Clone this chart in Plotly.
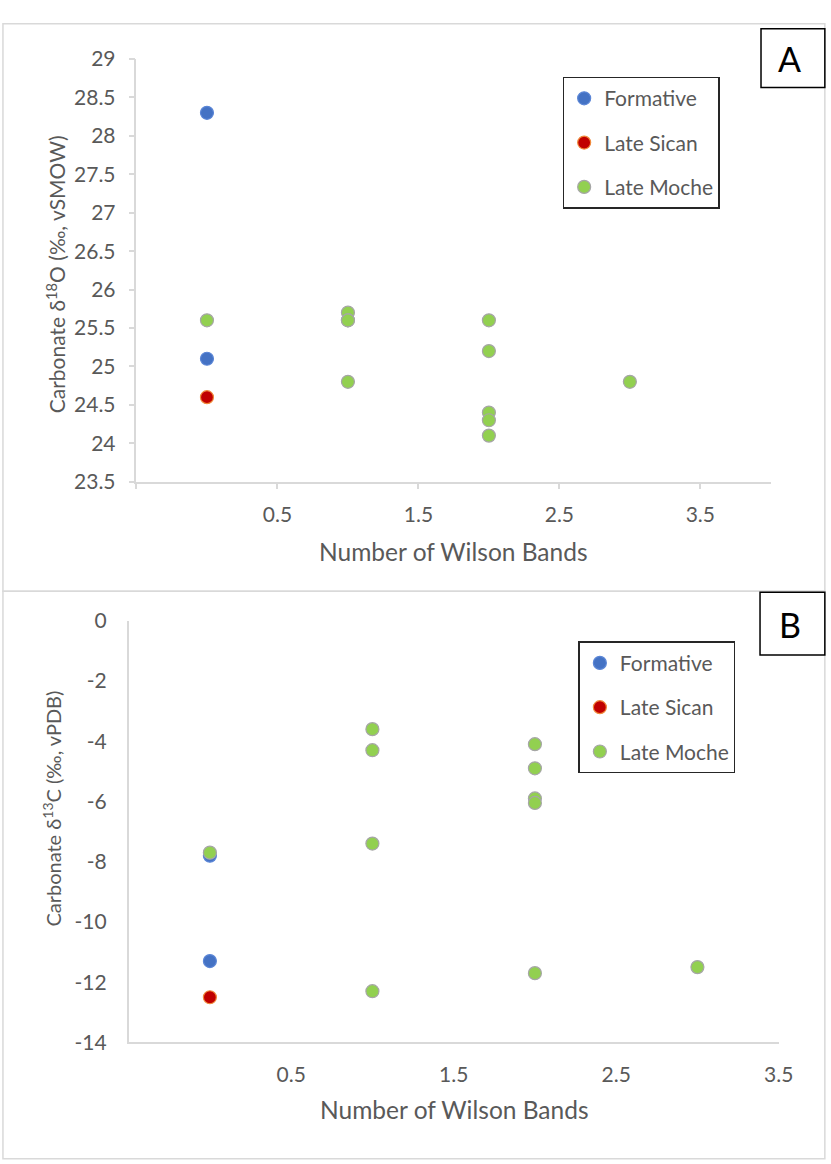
import plotly.graph_objects as go

W, H = 831, 1164

# ---- Data: panel A (carbonate d18O, vSMOW)
a_form_x = [0, 0]
a_form_y = [28.3, 25.1]
a_sican_x = [0]
a_sican_y = [24.6]
a_moche_x = [0, 1, 1, 1, 1, 2, 2, 2, 2, 2, 3]
a_moche_y = [25.6, 25.7, 25.6, 25.6, 24.8, 25.6, 25.2, 24.4, 24.3, 24.1, 24.8]

# ---- Data: panel B (carbonate d13C, vPDB)
b_form_x = [0, 0]
b_form_y = [-7.8, -11.3]
b_sican_x = [0]
b_sican_y = [-12.5]
b_moche_x = [0, 1, 1, 1, 1, 2, 2, 2, 2, 2, 3]
b_moche_y = [-7.7, -3.6, -4.3, -7.4, -12.3, -4.1, -4.9, -5.9, -6.05, -11.7, -11.5]

a_xticks = [-0.5, 0.5, 1.5, 2.5, 3.5]
a_xticktext = ["", "0.5", "1.5", "2.5", "3.5"]
a_yticks = [23.5, 24, 24.5, 25, 25.5, 26, 26.5, 27, 27.5, 28, 28.5, 29]
b_xticks = [0.5, 1.5, 2.5, 3.5]
b_yticks = [0, -2, -4, -6, -8, -10, -12, -14]

series_names = ["Formative", "Late Sican", "Late Moche"]
fills = ["#4472C4", "#C00000", "#92D050"]
rims = ["#5B86D6", "#F08A3C", "#A6A6A6"]

FONT = "Lato"
GREY = "#595959"
AX = "#D9D9D9"


def px_x(p):
    return p / W


def px_y(p):
    return 1 - p / H


fig = go.Figure()

for i, (xs, ys) in enumerate([(a_form_x, a_form_y), (a_sican_x, a_sican_y), (a_moche_x, a_moche_y)]):
    fig.add_trace(go.Scatter(
        x=xs, y=ys, mode="markers", name=series_names[i],
        marker=dict(size=13, color=fills[i], line=dict(color=rims[i], width=1.2)),
        xaxis="x", yaxis="y", legend="legend", legendgroup="a%d" % i,
    ))

for i, (xs, ys) in enumerate([(b_form_x, b_form_y), (b_sican_x, b_sican_y), (b_moche_x, b_moche_y)]):
    fig.add_trace(go.Scatter(
        x=xs, y=ys, mode="markers", name=series_names[i],
        marker=dict(size=13, color=fills[i], line=dict(color=rims[i], width=1.2)),
        xaxis="x2", yaxis="y2", legend="legend2", legendgroup="b%d" % i,
    ))

tickfont = dict(family=FONT, size=21, color=GREY)
legfont = dict(family=FONT, size=21, color=GREY)

fig.update_layout(
    width=W, height=H,
    margin=dict(l=0, r=0, t=0, b=0),
    paper_bgcolor="white", plot_bgcolor="white",
    font=dict(family=FONT, color=GREY),
    xaxis=dict(
        domain=[px_x(139), px_x(785)], range=[-0.5, 4], anchor="y",
        tickmode="array", tickvals=a_xticks, ticktext=a_xticktext,
        showgrid=False, zeroline=False, showline=True, linecolor=AX, linewidth=1.5,
        ticks="outside", ticklen=6, tickcolor=AX, tickwidth=1.5,
        tickfont=tickfont, ticklabelstandoff=7,
    ),
    yaxis=dict(
        domain=[px_y(478), px_y(46)], range=[23.5, 29], anchor="x",
        tickmode="array", tickvals=a_yticks, ticktext=[("%g" % v) for v in a_yticks],
        showgrid=False, zeroline=False, showline=True, linecolor=AX, linewidth=1.5,
        ticks="outside", ticklen=6, tickcolor=AX, tickwidth=1.5,
        tickfont=tickfont, ticklabelstandoff=9,
    ),
    xaxis2=dict(
        domain=[px_x(131), px_x(793)], range=[-0.5, 3.5], anchor="y2",
        tickmode="array", tickvals=b_xticks, ticktext=[("%g" % v) for v in b_xticks],
        showgrid=False, zeroline=False, showline=True, linecolor=AX, linewidth=1.5,
        ticks="", tickfont=tickfont, ticklabelstandoff=13,
    ),
    yaxis2=dict(
        domain=[px_y(1051), px_y(620)], range=[-14, 0], anchor="x2",
        tickmode="array", tickvals=b_yticks, ticktext=[("%g" % v) for v in b_yticks],
        showgrid=False, zeroline=False, showline=True, linecolor=AX, linewidth=1.5,
        ticks="", tickfont=tickfont, ticklabelstandoff=16,
    ),
    legend=dict(
        x=px_x(573), y=px_y(64), xanchor="left", yanchor="top",
        bordercolor="#262626", borderwidth=1.5, bgcolor="white",
        font=legfont, tracegroupgap=14, itemwidth=30,
    ),
    legend2=dict(
        x=px_x(589), y=px_y(641), xanchor="left", yanchor="top",
        bordercolor="#262626", borderwidth=1.5, bgcolor="white",
        font=legfont, tracegroupgap=14, itemwidth=30,
    ),
    showlegend=True,
)

shapes = [
    # panel outer frames
    dict(type="rect", xref="paper", yref="paper", x0=px_x(3), x1=px_x(840), y0=px_y(590), y1=px_y(10),
         line=dict(color=AX, width=1.5), fillcolor="rgba(0,0,0,0)", layer="below"),
    dict(type="rect", xref="paper", yref="paper", x0=px_x(3), x1=px_x(840), y0=px_y(1170), y1=px_y(590),
         line=dict(color=AX, width=1.5), fillcolor="rgba(0,0,0,0)", layer="below"),
    # label boxes
    dict(type="rect", xref="paper", yref="paper", x0=px_x(775), x1=px_x(840), y0=px_y(75), y1=px_y(15),
         line=dict(color="#000000", width=1.5), fillcolor="white"),
    dict(type="rect", xref="paper", yref="paper", x0=px_x(774), x1=px_x(840), y0=px_y(655), y1=px_y(591),
         line=dict(color="#000000", width=1.5), fillcolor="white"),
]


def ann(text, x, y, size, color=GREY, angle=0):
    return dict(text=text, x=px_x(x), y=px_y(y), xref="paper", yref="paper",
                xanchor="center", yanchor="middle", showarrow=False, textangle=angle,
                font=dict(family=FONT, size=size, color=color))


annotations = [
    ann("A", 804, 45, 34, "#000000"),
    ann("B", 805, 624, 34, "#000000"),
    ann("Carbonate δ<sup>18</sup>O (‰, vSMOW)", 57, 266, 21, angle=-90),
    ann("Number of Wilson Bands", 462, 549, 24.5),
    ann("Carbonate δ<sup>13</sup>C (‰, vPDB)", 52, 812, 20, angle=-90),
    ann("Number of Wilson Bands", 463, 1120, 24.5),
]

fig.update_layout(shapes=shapes, annotations=annotations)

fig.write_html(
    "out.html",
    post_script="document.body.style.margin='0';document.body.style.padding='0';",
)
